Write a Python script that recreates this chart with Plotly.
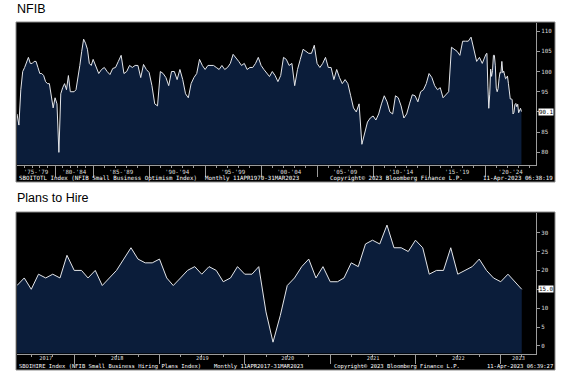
import numpy as np
import pandas as pd
import plotly.graph_objects as go

W, H = 564, 376

# ---------------- NFIB Small Business Optimism Index (SBOITOTL) ----------------
# quarterly 1975Q1..1984Q4
nfib_early = [89.5, 86.75, 95.5, 100, 101, 102.5, 103.5, 102, 102, 102.5,
              102.5, 101, 99.5, 99.5, 99, 97.5, 97, 97, 94, 91,
              93.5, 92, 80, 94.5, 96, 97, 95.5, 99, 95, 95,
              95, 95.5, 98, 101.5, 105, 108, 107, 105.5, 102, 101.5]
# quarterly 1985Q1..2019Q4
nfib_mid = [103, 101, 99.5, 100.5, 101, 100, 99.25, 100.75, 101, 102.5,
            104, 99.5, 100, 101.5, 101, 101.5, 101.5, 98.5, 101.75, 100.5,
            99.75, 96.5, 92, 91.5, 100, 99.5, 98.5, 96.5, 100, 100,
            98, 100.5, 98, 94.5, 93.5, 97, 98.5, 99.5, 103, 101.5,
            100.5, 101.5, 101.5, 101.5, 101, 100.5, 101.5, 100.5, 101, 102,
            104.25, 103.5, 102.5, 101.5, 102, 100.5, 101, 101, 102, 103.5,
            101.5, 100.5, 99.5, 98.75, 100, 99, 97.5, 99, 103.5, 103,
            101.5, 102, 96.5, 100.5, 103, 105.5, 105, 104.5, 104.5, 106.5,
            102, 101, 102, 103.5, 101, 101, 98, 100.5, 98.5, 97,
            98, 97, 94, 91, 90, 92, 82, 85, 87.5, 88.5,
            89, 88, 89.5, 92, 94, 92.5, 90, 89.5, 94, 93.5,
            91.5, 88.5, 89.5, 92, 94.25, 94, 92.5, 95, 95.5, 97,
            99.5, 98.5, 96.5, 95.5, 96, 93.5, 94.25, 95, 106, 105.5,
            105, 104, 107.5, 107.5, 107.5, 108.5, 105.5, 102.5, 103.5, 102]
# monthly 2020-01..2023-03
nfib_late = [104.3, 104.5, 96.4, 90.9, 94.4, 100.6, 98.8, 100.2, 104.0, 104.0, 101.4, 95.9,
             95.0, 95.8, 98.2, 99.8, 99.6, 102.5, 99.7, 100.1, 99.1, 98.2, 98.4, 98.9,
             97.1, 95.7, 93.2, 93.2, 93.1, 89.5, 89.9, 91.8, 92.1, 91.3, 91.9, 89.8,
             90.3, 90.9, 90.1]
nfib_period_labels = ["'75-'79", "'80-'84", "'85-'89", "'90-'94", "'95-'99",
                      "'00-'04", "'05-'09", "'10-'14", "'15-'19", "'20-'24"]
nfib_period_starts = [1975, 1980, 1985, 1990, 1995, 2000, 2005, 2010, 2015, 2020]
nfib_yticks = [80, 85, 90, 95, 100, 105, 110]

# ---------------- NFIB Hiring Plans (SBOIHIRE), monthly Apr 2017..Mar 2023 ----------------
hire = [16, 18, 15, 19, 18, 19, 18, 24, 20, 20,
        18, 20, 16, 18, 20, 23, 26, 23, 22, 22,
        23, 18, 16, 18, 20, 21, 19, 21, 20, 17,
        18, 21, 19, 19, 21, 9, 1, 8, 16, 18,
        21, 23, 18, 21, 17, 17, 18, 22, 21, 27,
        28, 27, 32, 26, 26, 25, 28, 26, 19, 20,
        20, 26, 19, 20, 21, 23, 20, 18, 17, 19,
        17, 15]
hire_years = [2017, 2018, 2019, 2020, 2021, 2022, 2023]
hire_yticks = [0, 5, 10, 15, 20, 25, 30]

# ---------------- style ----------------
FILL = "#0b1d3a"
LINE = "#e4e6ea"
AXC = "#9c9c9c"
TXT = "#dcdcdc"
MONO = "DejaVu Sans Mono"
SANS = "Liberation Sans"


def pos(year):
    """Bloomberg compresses the quarterly-only era of the series."""
    y = np.asarray(year, dtype=float)
    return np.where(y < 1985, 1985 - (1985 - y) * 0.68, y)


def px(x):
    return x / W


def py(y):
    return 1 - y / H


# top-panel time positions
yrs = np.concatenate([1975 + 0.25 * np.arange(len(nfib_early)),
                      1985 + 0.25 * np.arange(len(nfib_mid)),
                      2020 + (np.arange(len(nfib_late)) + 1) / 12])
nfib = np.array(nfib_early + nfib_mid + nfib_late, dtype=float)
x_top = pos(yrs)
top_range = [float(pos(1975)), 2024.55]
top_ymin, top_ymax = 77, 112

sep_top = [float(pos(y)) for y in nfib_period_starts[1:]]
minor_top = [float(pos(y)) for y in range(1976, 2025) if y % 5 != 0]
lab_top = []
for s in nfib_period_starts:
    a = float(pos(s))
    b = min(float(pos(s + 5)), top_range[1])
    lab_top.append((a + b) / 2)

# bottom-panel dates (Bloomberg stamps monthly data at month end)
d_hire = pd.date_range("2017-04-30", periods=len(hire), freq="ME")
bot_range = [pd.Timestamp("2017-04-30"), pd.Timestamp("2023-05-31")]
bot_ymin, bot_ymax = -2, 35.2
sep_bot = [pd.Timestamp(f"{y}-01-01") for y in hire_years[1:]]
minor_bot = [pd.Timestamp(f"{y}-{m:02d}-01") for y in hire_years for m in (4, 7, 10)
             if bot_range[0] < pd.Timestamp(f"{y}-{m:02d}-01") < bot_range[1]]
lab_bot = []
for y in hire_years:
    a = max(pd.Timestamp(f"{y}-01-01"), bot_range[0])
    b = min(pd.Timestamp(f"{y + 1}-01-01"), bot_range[1])
    lab_bot.append(a + (b - a) / 2)


def tick_text(vals, last):
    # the last-value tag sits over the nearest tick label, as in the terminal
    return ["" if abs(v - last) < 2.5 else str(v) for v in vals]


fig = go.Figure()

# top panel
fig.add_trace(go.Scatter(x=x_top, y=nfib, mode="lines", fill="tozeroy",
                         fillcolor=FILL, line=dict(color=LINE, width=1),
                         xaxis="x", yaxis="y", hoverinfo="skip", showlegend=False))
# bottom panel: baseline at the axis floor, then area to it
fig.add_trace(go.Scatter(x=d_hire, y=[bot_ymin] * len(hire), mode="lines",
                         line=dict(width=0, color=FILL), xaxis="x2", yaxis="y2",
                         hoverinfo="skip", showlegend=False))
fig.add_trace(go.Scatter(x=d_hire, y=hire, mode="lines", fill="tonexty",
                         fillcolor=FILL, line=dict(color=LINE, width=1),
                         xaxis="x2", yaxis="y2", hoverinfo="skip", showlegend=False))
# invisible traces to carry the label axes
fig.add_trace(go.Scatter(x=[lab_top[0]], y=[top_ymin - 10], mode="markers",
                         marker=dict(opacity=0), xaxis="x3", yaxis="y",
                         hoverinfo="skip", showlegend=False))
fig.add_trace(go.Scatter(x=[lab_bot[0]], y=[bot_ymin - 10], mode="markers",
                         marker=dict(opacity=0), xaxis="x4", yaxis="y2",
                         hoverinfo="skip", showlegend=False))

xdom = [px(17), px(536)]
top_dom = [py(164.5), py(23)]
bot_dom = [py(353.5), py(213)]

common_x = dict(showgrid=False, zeroline=False, showline=True, linecolor=AXC,
                linewidth=1, ticks="outside", tickcolor=AXC, tickwidth=1,
                showticklabels=False)
label_x = dict(showgrid=False, zeroline=False, showline=False, ticks="")
common_y = dict(side="right", showgrid=False, zeroline=False, showline=True,
                linecolor=AXC, linewidth=1, ticks="outside", ticklen=3,
                tickcolor=AXC, tickfont=dict(family=MONO, size=5.8, color=TXT))

fig.update_layout(
    width=W, height=H, margin=dict(l=0, r=0, t=0, b=0),
    paper_bgcolor="white", plot_bgcolor="black", showlegend=False,
    xaxis=dict(domain=xdom, anchor="y", range=top_range, tickmode="array",
               tickvals=sep_top, ticklen=11,
               minor=dict(tickmode="array", tickvals=minor_top, ticks="outside",
                          ticklen=2, tickcolor=AXC, showgrid=False),
               **common_x),
    xaxis3=dict(overlaying="x", anchor="y", range=top_range, tickmode="array",
                tickvals=lab_top, ticktext=nfib_period_labels,
                ticklabelstandoff=3,
                tickfont=dict(family=MONO, size=5.8, color=TXT), **label_x),
    yaxis=dict(domain=top_dom, anchor="x", range=[top_ymin, top_ymax],
               tickmode="array", tickvals=nfib_yticks,
               ticktext=tick_text(nfib_yticks, nfib[-1]), **common_y),
    xaxis2=dict(domain=xdom, anchor="y2", type="date", range=bot_range,
                tickmode="array", tickvals=sep_bot, ticklen=9,
                minor=dict(tickmode="array", tickvals=minor_bot, ticks="outside",
                           ticklen=2, tickcolor=AXC, showgrid=False),
                **common_x),
    xaxis4=dict(overlaying="x2", anchor="y2", type="date", range=bot_range,
                tickmode="array", tickvals=lab_bot,
                ticktext=[str(y) for y in hire_years],
                ticklabelstandoff=0,
                tickfont=dict(family=MONO, size=5.3, color=TXT), **label_x),
    yaxis2=dict(domain=bot_dom, anchor="x2", range=[bot_ymin, bot_ymax],
                tickmode="array", tickvals=hire_yticks,
                ticktext=tick_text(hire_yticks, hire[-1]), **common_y),
)

# black panel frames
for y0, y1 in [(22, 182), (212, 370)]:
    fig.add_shape(type="rect", xref="paper", yref="paper",
                  x0=px(16), x1=px(555), y0=py(y1), y1=py(y0),
                  fillcolor="black", line=dict(color="#8a8a8a", width=1),
                  layer="below")

ann = []
# titles
ann.append(dict(text="NFIB", x=px(15), y=py(9), xanchor="left", yanchor="middle",
                font=dict(family=SANS, size=12.5, color="black")))
ann.append(dict(text="Plans to Hire", x=px(15), y=py(198), xanchor="left",
                yanchor="middle", font=dict(family=SANS, size=12.5, color="black")))

for (yy, fs, ticker, span, stamp, xm, xc) in [
        (178.5, 5.8, "SBOITOTL Index (NFIB Small Business Optimism Index)",
         "Monthly 11APR1970-31MAR2023", "11-Apr-2023 06:38:19", 203, 328),
        (366.5, 5.5, "SBOIHIRE Index (NFIB Small Business Hiring Plans Index)",
         "Monthly 11APR2017-31MAR2023", "11-Apr-2023 06:39:27", 212, 332)]:
    foot = dict(family=MONO, size=fs, color="white")
    ann.append(dict(text=ticker, x=px(17), y=py(yy), xanchor="left", yanchor="middle", font=foot))
    ann.append(dict(text=span, x=px(xm), y=py(yy), xanchor="left", yanchor="middle", font=foot))
    ann.append(dict(text="Copyright© 2023 Bloomberg Finance L.P.", x=px(xc), y=py(yy),
                    xanchor="left", yanchor="middle", font=foot))
    ann.append(dict(text=stamp, x=px(555), y=py(yy), xanchor="right", yanchor="middle", font=foot))

# last-value tags
ann.append(dict(text=f"{nfib[-1]:.1f}", xref="paper", yref="y", x=px(538), y=nfib[-1],
                xanchor="left", yanchor="middle", bgcolor="white", borderpad=0,
                font=dict(family=MONO, size=5.8, color="black")))
ann.append(dict(text=f"{hire[-1]:.1f}", xref="paper", yref="y2", x=px(538), y=hire[-1],
                xanchor="left", yanchor="middle", bgcolor="white", borderpad=0,
                font=dict(family=MONO, size=5.8, color="black")))

for a in ann:
    a.setdefault("xref", "paper")
    a.setdefault("yref", "paper")
    a["showarrow"] = False
fig.update_layout(annotations=ann)

fig.write_html("out.html", config={"displayModeBar": False},
               post_script="document.body.style.margin='0';"
                           "document.body.style.overflow='hidden';")
